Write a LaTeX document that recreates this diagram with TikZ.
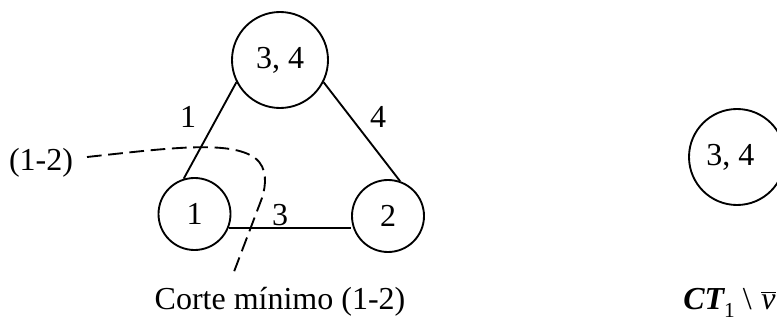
\documentclass[tikz,border=0pt]{standalone}
\usepackage{fontspec}
\setmainfont{Liberation Serif}
\begin{document}
\begin{tikzpicture}[x=0.75pt,y=-0.75pt,
  every node/.style={font=\fontsize{24}{28}\selectfont},
  bigc/.style={draw,circle,line width=1.4pt,minimum size=72pt,inner sep=0pt},
  smallc/.style={draw,circle,line width=1.4pt,minimum size=54pt,inner sep=0pt},
  edgeline/.style={line width=1.4pt},
  cutline/.style={line width=1.4pt,dash pattern=on 11pt off 5pt}]
\useasboundingbox (0,0) rectangle (777,321);
\node[bigc] (t) at (280,60) {3, 4};
\node[smallc] (c1) at (194.5,214) {1};
\node[smallc] (c2) at (388,216) {2};
\node[bigc] (r) at (737,157) {\hspace*{-10pt}3, 4};
\draw[edgeline] (t.207) -- (c1.107);
\draw[edgeline] (t.333) -- (c2.71);
\draw[edgeline] (c1.338) -- (c1.338 -| c2.west);
\node (l1) at (188,117) {1};
\node (l4) at (378,117) {4};
\node (l3) at (280,215) {3};
\node (lcut) at (41,163) {(1-2)};
\node[anchor=base] (corte) at (280,309) {Corte mínimo (1-2)};
\node[anchor=base west,inner sep=0pt] (ct) at (683,309) {{\bfseries\itshape CT}\raisebox{-0.25em}{\fontsize{16}{16}\selectfont 1} \textbackslash\hspace{0.3em}$\overline{\mbox{\itshape v}}$};
\coordinate (cs) at (87,157);
\coordinate (ce) at (232,277);
\draw[cutline] (cs) .. controls (170,148) and (230,140) .. (255,158)
  .. controls (268,168) and (266,185) .. (262,198) -- (ce);
\end{tikzpicture}
\end{document}
